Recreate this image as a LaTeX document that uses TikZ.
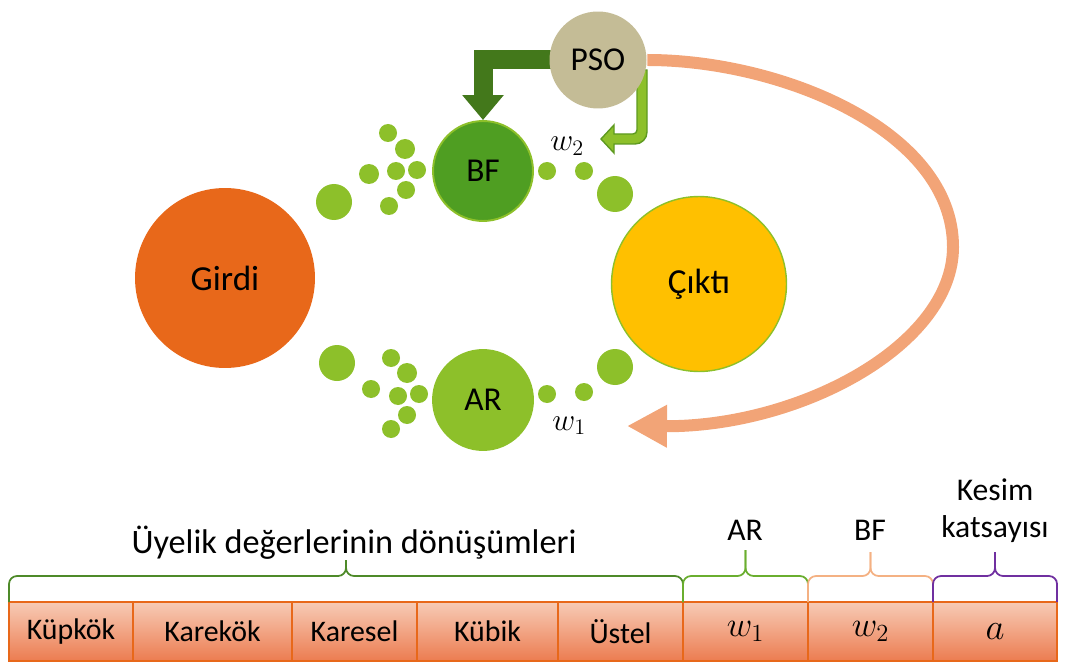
\documentclass[tikz,border=0pt]{standalone}
\usepackage{fix-cm}
\usepackage{fontspec}
\setmainfont{Carlito}
\usepackage{tikz}
\usetikzlibrary{positioning, backgrounds, arrows.meta}

\definecolor{girdiorange}{HTML}{E8681A}
\definecolor{ciktiyellow}{HTML}{FFC000}
\definecolor{leafgreen}{HTML}{8DC02A}
\definecolor{bfgreen}{HTML}{4F9E22}
\definecolor{darkgreen}{HTML}{43781B}
\definecolor{rimgreen}{HTML}{5E9A20}
\definecolor{psotan}{HTML}{C4BC96}
\definecolor{salmon}{HTML}{F2A477}
\definecolor{celltop}{HTML}{F7CBB6}
\definecolor{cellbottom}{HTML}{EC7C50}
\definecolor{cellline}{HTML}{E8681A}
\definecolor{bracegreen}{HTML}{4E8A29}
\definecolor{arbrace}{HTML}{6AAE2F}
\definecolor{bfbrace}{HTML}{F4B183}
\definecolor{kesimpurple}{HTML}{7030A0}

\begin{document}
\begin{tikzpicture}[x=0.02cm, y=-0.02cm,
  big node/.style={circle, inner sep=0pt, font=\fontsize{20}{24}\selectfont},
  main node/.style={circle, inner sep=0pt, minimum size=2cm, line width=1.1pt, font=\fontsize{19}{22}\selectfont},
  weight/.style={inner sep=0pt, font=\fontsize{18}{21}\selectfont},
  cell/.style={draw=cellline, line width=1.2pt, top color=celltop, bottom color=cellbottom,
    minimum height=1.18cm, inner sep=0pt, font=\fontsize{17}{20}\selectfont},
  group label/.style={align=center, inner sep=0pt, font=\fontsize{18}{21}\selectfont},
  group brace/.style={line width=1pt, rounded corners=0.16cm}]

\useasboundingbox (0,0) rectangle (1081,662);

\node[big node, fill=girdiorange, minimum size=3.6cm] (Girdi) at (225,278) {Girdi};
\node[big node, fill=ciktiyellow, draw=leafgreen, line width=0.8pt, minimum size=3.5cm] (Cikti) at (699,284) {Çıktı};
\node[main node, fill=bfgreen, draw=leafgreen] (BF) at (483,171) {BF};
\node[main node, fill=leafgreen, draw=leafgreen] (AR) at (483,400) {AR};
\node[main node, fill=psotan, minimum size=1.94cm] (PSO) at (598,60) {PSO};

\foreach \x/\y/\r in {334/202/18, 388/133/9, 405/149/10, 369/174/10, 396/171/9, 417/170/9,
    406/190/9, 389/206/9, 547/171/9, 584/171/9, 615/194/18,
    337/363/18, 391/358/9, 407/373/10, 371/389/9, 398/396/9, 419/394/9,
    407/415/9, 391/429/9, 547/394/9, 584/392/9, 615/367/18}
  \fill[leafgreen] (\x,\y) circle[radius=\r*0.02cm];

\node[weight, anchor=base west] (w2) at (550,151) {$w_2$};
\node[weight, anchor=base west] (w1) at (552,430) {$w_1$};
\coordinate (w2tip) at (601,139);
\coordinate (w1tip) at (627,426);

\begin{scope}[on background layer]
\draw[darkgreen, line width=0.38cm, -{Triangle[length=0.5cm, width=0.8cm]}] (PSO.center) -| (BF.north);
\filldraw[fill=leafgreen, draw=rimgreen, line width=0.8pt] (637,70) -- (647,70)
  [rounded corners=0.24cm] -- (647,144) [sharp corners] -- (614,144) -- (614,153) -- (w2tip)
  -- (614,125) -- (614,134) [rounded corners=0.08cm] -- (637,134) [sharp corners] -- cycle;
\draw[salmon, line width=0.24cm, -{Triangle[length=0.8cm, width=0.8cm]}] (PSO.east)
  .. controls (780,60) and (953,130) .. (953,247)
  .. controls (953,345) and (800,427) .. (w1tip);
\end{scope}

\foreach \a/\b/\t/\n in {9/133/Küpkök/c1, 133/292/Karekök/c2, 292/417/Karesel/c3,
    417/558/Kübik/c4, 558/683/Üstel/c5,
    683/808/{\fontsize{20}{24}\selectfont$w_1$}/c6,
    808/933/{\fontsize{20}{24}\selectfont$w_2$}/c7,
    933/1057/{\fontsize{21}{24}\selectfont$a$}/c8}
  \node[cell, minimum width={(\b-\a)*0.02cm}] (\n) at ({(\a+\b)/2},631.5) {\t};

\foreach \a/\b/\m/\t/\c in {9/683/346/560/bracegreen, 683/808/745.5/550/arbrace,
    808/933/870.5/552/bfbrace, 933/1057/995/552/kesimpurple} {
  \draw[group brace, \c] (\a,602) -- (\a,576) -- (\m,576) -- (\m,\t);
  \draw[group brace, \c] (\b,602) -- (\b,576) -- (\m,576) -- (\m,\t);
}

\node[group label, anchor=base, font=\fontsize{19.5}{23}\selectfont] (donusum) at (354,553) {Üyelik değerlerinin dönüşümleri};
\node[group label, anchor=base] (arlabel) at (745,540) {AR};
\node[group label, anchor=base] (bflabel) at (870,540) {BF};
\node[group label, anchor=north] (kesim) at (995,478) {Kesim\\katsayısı};

\end{tikzpicture}
\end{document}
